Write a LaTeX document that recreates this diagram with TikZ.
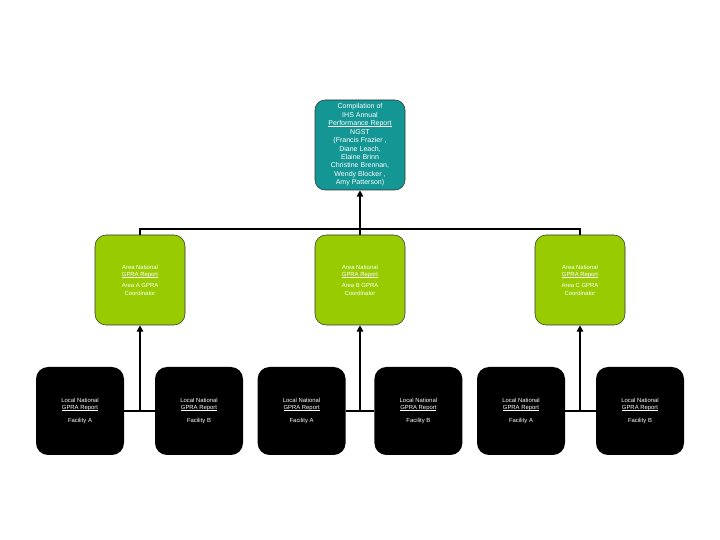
\documentclass[tikz,border=0pt]{standalone}
\usepackage{fontspec}
\setmainfont{Liberation Sans}
\usetikzlibrary{arrows.meta}

\definecolor{ihsteal}{RGB}{20,150,148}
\definecolor{areagreen}{RGB}{153,204,0}

% thin underline close to the text
\newcommand{\rptline}[1]{\setbox0\hbox{#1}\leavevmode\rlap{\rule[-0.8pt]{\wd0}{0.35pt}}\box0}

\begin{document}
\begin{tikzpicture}[
    >={Triangle[length=4.5pt,width=4.5pt]}, % arrow tip for all links
    link/.style={line width=1.3pt},
    topbox/.style={draw=black!80, fill=ihsteal, text=white, rounded corners=0.25cm,
        minimum width=2.25cm, minimum height=2.25cm, inner sep=0pt,
        align=center, font=\fontsize{5}{6}\selectfont},
    areabox/.style={draw=black!80, fill=areagreen, text=white, rounded corners=0.28cm,
        minimum width=2.25cm, minimum height=2.25cm, inner sep=0pt,
        align=center, font=\fontsize{4.2}{5.2}\selectfont},
    sitebox/.style={fill=black, text=white, rounded corners=0.3cm,
        minimum width=2.2cm, minimum height=2.2cm, inner sep=0pt,
        align=center, font=\fontsize{4.2}{5.2}\selectfont}
]
\useasboundingbox (0,0) rectangle (18,13.5);

% Top level
\node[topbox] (ihs) at (9, 9.875) {Compilation of\\IHS Annual\\\rptline{Performance Report}\\NGST\\(Francis Frazier ,\\Diane Leach,\\Elaine Brinn\\Christine Brennan,\\Wendy Blocker ,\\Amy Patterson)};

% Area level
\node[areabox] (areaA) at (3.5, 6.5) {Area National\\\rptline{GPRA Report}\\[3pt]Area A GPRA\\Coordinator};
\node[areabox] (areaB) at (9, 6.5) {Area National\\\rptline{GPRA Report}\\[3pt]Area B GPRA\\Coordinator};
\node[areabox] (areaC) at (14.5, 6.5) {Area National\\\rptline{GPRA Report}\\[3pt]Area C GPRA\\Coordinator};

% Facility level
\node[sitebox] (siteA1) at (2.0, 3.225) {Local National\\\rptline{GPRA Report}\\[4pt]Facility A};
\node[sitebox] (siteB1) at (4.975, 3.225) {Local National\\\rptline{GPRA Report}\\[4pt]Facility B};
\node[sitebox] (siteA2) at (7.54, 3.225) {Local National\\\rptline{GPRA Report}\\[4pt]Facility A};
\node[sitebox] (siteB2) at (10.46, 3.225) {Local National\\\rptline{GPRA Report}\\[4pt]Facility B};
\node[sitebox] (siteA3) at (13.025, 3.225) {Local National\\\rptline{GPRA Report}\\[4pt]Facility A};
\node[sitebox] (siteB3) at (16.0, 3.225) {Local National\\\rptline{GPRA Report}\\[4pt]Facility B};

% Areas up to the compilation
\coordinate (bar) at ([yshift=0.15cm]areaB.north);
\draw[link] (areaA.north) |- (bar) -| (areaC.north);
\draw[link] (bar) -- (areaB.north);
\draw[link, ->] (areaB.north) -- (ihs.south);

% Facilities up to their area
\draw[link] (siteA1.east) -- (siteB1.west);
\draw[link, ->] (siteA1.east -| areaA.south) -- (areaA.south);
\draw[link] (siteA2.east) -- (siteB2.west);
\draw[link, ->] (siteA2.east -| areaB.south) -- (areaB.south);
\draw[link] (siteA3.east) -- (siteB3.west);
\draw[link, ->] (siteA3.east -| areaC.south) -- (areaC.south);

\end{tikzpicture}
\end{document}
